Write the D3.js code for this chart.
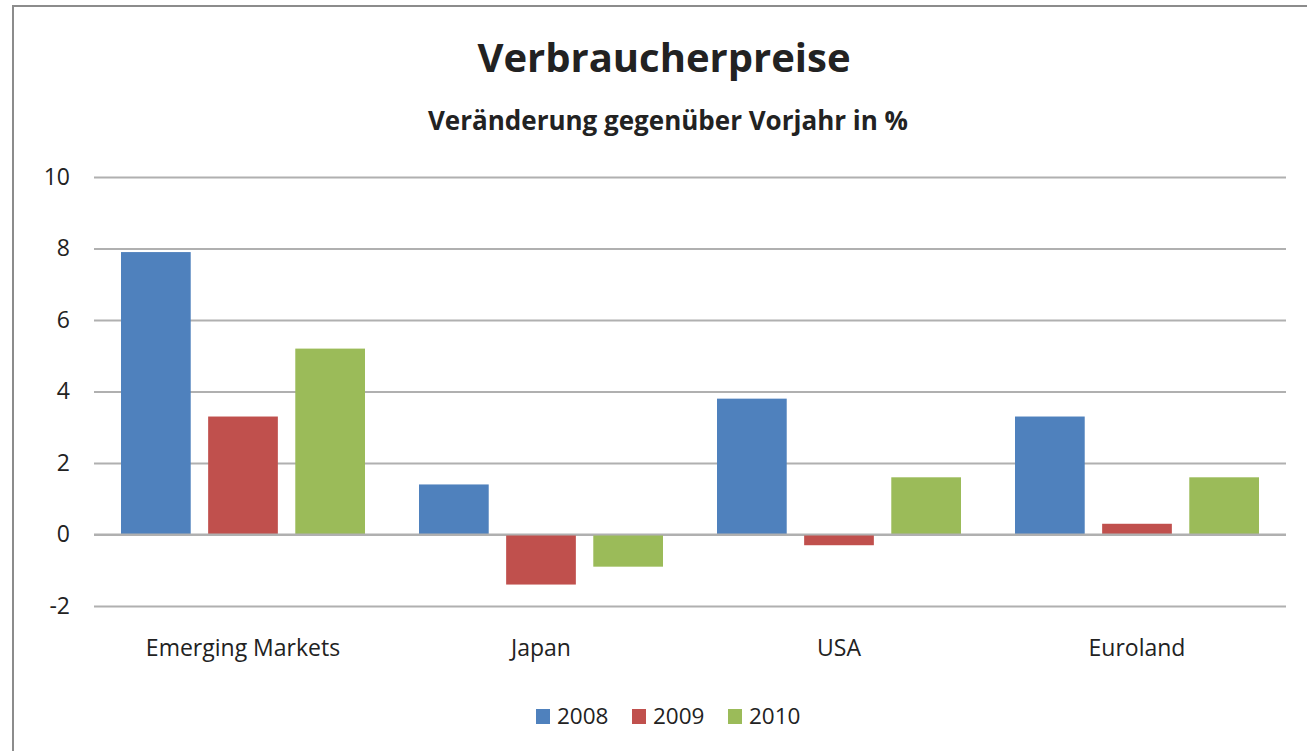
<!DOCTYPE html>
<html>
<head>
<meta charset="utf-8">
<script src="https://cdn.jsdelivr.net/npm/d3@7"></script>
<style>
  body { margin: 0; background: #fff; }
  svg text { font-family: "Open Sans", Lato, sans-serif; fill: #222; }
</style>
</head>
<body>
<div id="chart"></div>
<script>
// # Data.
const categories = ['Emerging Markets', 'Japan', 'USA', 'Euroland']
const years = ['2008', '2009', '2010']
const values2008 = [7.9, 1.4, 3.8, 3.3]
const values2009 = [3.3, -1.4, -0.3, 0.3]
const values2010 = [5.2, -0.9, 1.6, 1.6]
const yTicks = [-2, 0, 2, 4, 6, 8, 10]
const colors = ['#4f81bd', '#c0504d', '#9bbb59']

const series = [values2008, values2009, values2010]
const width = 1307, height = 751

// # Mount svg.
let svg = d3.select('#chart')
    .append('svg')
    .attr('width', width)
    .attr('height', height)

// # Frame.
svg.append('path')
    .attr('d', `M13,${height} L13,6 L${width},6`)
    .attr('fill', 'none')
    .attr('stroke', '#8c8c8c')
    .attr('stroke-width', 2)

// # Titles.
svg.append('text')
    .attr('x', 664).attr('y', 72)
    .attr('text-anchor', 'middle')
    .attr('font-size', 40).attr('font-weight', 'bold')
    .text('Verbraucherpreise')
svg.append('text')
    .attr('x', 668).attr('y', 130)
    .attr('text-anchor', 'middle')
    .attr('font-size', 26).attr('font-weight', 'bold')
    .text('Veränderung gegenüber Vorjahr in %')

// # Scales.
let x0 = d3.scaleBand().domain(categories).range([94, 1286])
let x1 = d3.scaleBand().domain(years).range([27, 271]).paddingInner(0.2)
let y = d3.scaleLinear().domain([-2, 10]).range([606, 177])

// # Grid + y labels.
let yAxis = svg.append('g')
    .attr('transform', 'translate(94,0)')
    .call(d3.axisLeft(y).tickValues(yTicks).tickSize(-1192).tickPadding(24).tickFormat(d => String(d)))
yAxis.select('.domain').remove()
yAxis.selectAll('line').attr('stroke', '#b0b0b0').attr('stroke-width', 2)
yAxis.selectAll('text').attr('font-size', 23).attr('fill', '#222')
    .style('font-family', '"Open Sans", sans-serif')

// # Bars.
let groups = svg.append('g')
    .selectAll('g')
    .data(categories)
    .enter().append('g')
    .attr('transform', c => `translate(${x0(c)},0)`)
groups.selectAll('rect')
    .data((c, i) => series.map((s, j) => ({year: years[j], v: s[i], color: colors[j]})))
    .enter().append('rect')
    .attr('x', d => x1(d.year))
    .attr('width', x1.bandwidth())
    .attr('y', d => y(Math.max(0, d.v)))
    .attr('height', d => Math.abs(y(d.v) - y(0)))
    .attr('fill', d => d.color)

// # Zero line on top.
svg.append('line')
    .attr('x1', 94).attr('x2', 1286)
    .attr('y1', y(0)).attr('y2', y(0))
    .attr('stroke', '#b0b0b0').attr('stroke-width', 2)

// # Category labels.
svg.append('g')
    .selectAll('text')
    .data(categories)
    .enter().append('text')
    .attr('x', c => x0(c) + x0.bandwidth() / 2)
    .attr('y', 656)
    .attr('text-anchor', 'middle')
    .attr('font-size', 23)
    .text(c => c)

// # Legend.
let legend = svg.append('g')
    .selectAll('g')
    .data(years)
    .enter().append('g')
    .attr('transform', (d, i) => `translate(${536 + i * 96},0)`)
legend.append('rect')
    .attr('x', 0).attr('y', 709)
    .attr('width', 14).attr('height', 15)
    .attr('fill', (d, i) => colors[i])
legend.append('text')
    .attr('x', 21).attr('y', 724)
    .attr('font-size', 22.5)
    .text(d => d)
</script>
</body>
</html>
